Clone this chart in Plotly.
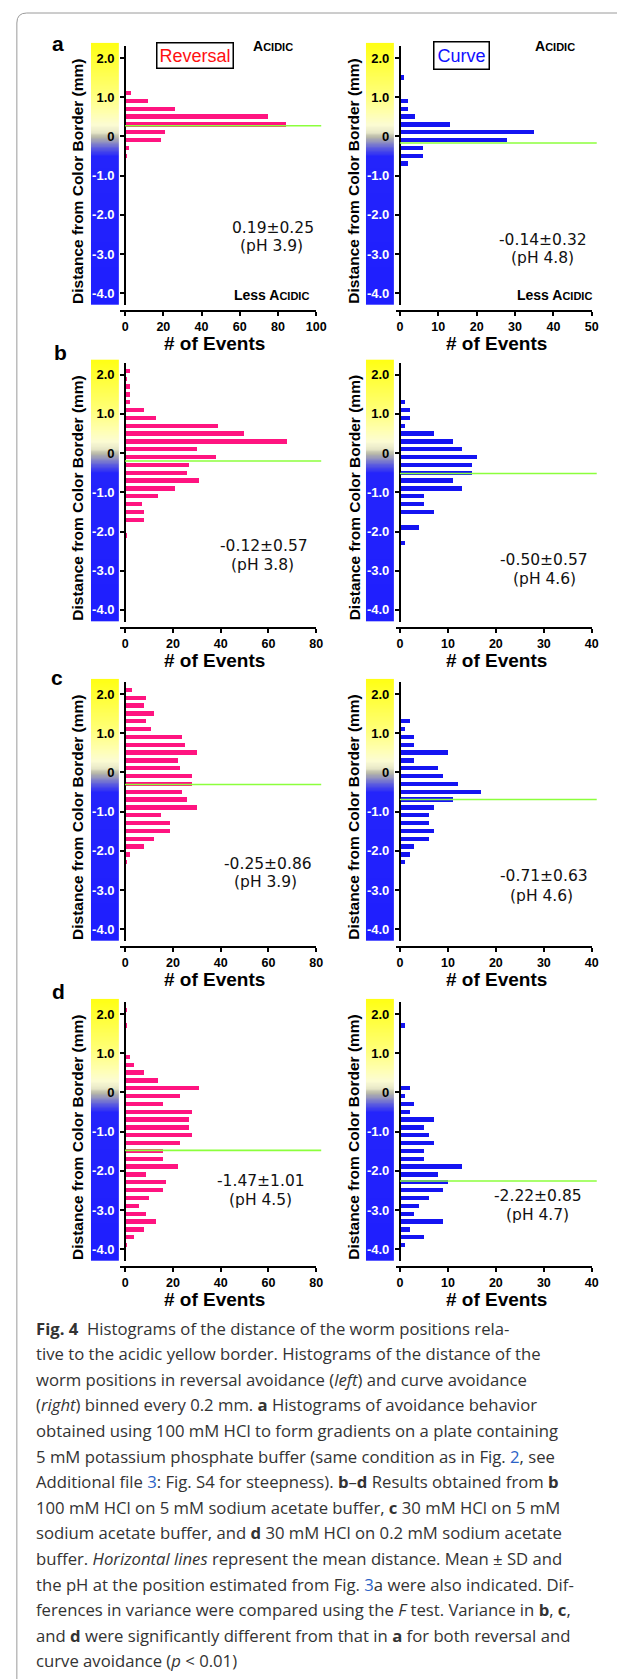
import numpy as np
import plotly.graph_objects as go

W, H = 625, 1679

# ---------------- data ----------------
bin_a_rev = [1.1, 0.9, 0.7, 0.5, 0.3, 0.1, -0.1, -0.3, -0.5]
cnt_a_rev = [3, 12, 26, 75, 84, 21, 19, 2, 1]
bin_a_cur = [1.5, 0.9, 0.7, 0.5, 0.3, 0.1, -0.1, -0.3, -0.5, -0.7]
cnt_a_cur = [1, 2, 2, 4, 13, 35, 28, 6, 6, 2]
bin_b_rev = [2.1, 1.9, 1.7, 1.5, 1.3, 1.1, 0.9, 0.7, 0.5, 0.3, 0.1, -0.1, -0.3, -0.5,
             -0.7, -0.9, -1.1, -1.3, -1.5, -1.7, -2.1]
cnt_b_rev = [2, 1, 2, 2, 2, 8, 13, 39, 50, 68, 30, 38, 27, 26, 31, 21, 14, 7, 8, 8, 1]
bin_b_cur = [1.3, 1.1, 0.9, 0.7, 0.5, 0.3, 0.1, -0.1, -0.3, -0.5, -0.7, -0.9, -1.1,
             -1.3, -1.5, -1.9, -2.3]
cnt_b_cur = [1, 2, 2, 1, 7, 11, 13, 16, 15, 15, 11, 13, 5, 5, 7, 4, 1]
bin_c_rev = [2.1, 1.9, 1.7, 1.5, 1.3, 1.1, 0.9, 0.7, 0.5, 0.3, 0.1, -0.1, -0.3, -0.5,
             -0.7, -0.9, -1.1, -1.3, -1.5, -1.7, -1.9, -2.1, -2.3]
cnt_c_rev = [3, 9, 8, 12, 9, 11, 24, 25, 30, 22, 23, 28, 28, 24, 26, 30, 15, 19, 19,
             12, 8, 2, 1]
bin_c_cur = [1.3, 1.1, 0.9, 0.7, 0.5, 0.3, 0.1, -0.1, -0.3, -0.5, -0.7, -0.9, -1.1,
             -1.3, -1.5, -1.7, -1.9, -2.1, -2.3]
cnt_c_cur = [2, 1, 3, 3, 10, 3, 8, 9, 12, 17, 11, 7, 6, 6, 7, 6, 3, 2, 1]
bin_d_rev = [2.1, 1.7, 0.9, 0.7, 0.5, 0.3, 0.1, -0.1, -0.3, -0.5, -0.7, -0.9, -1.1,
             -1.3, -1.5, -1.7, -1.9, -2.1, -2.3, -2.5, -2.7, -2.9, -3.1, -3.3, -3.5,
             -3.7, -3.9]
cnt_d_rev = [1, 1, 2, 4, 8, 14, 31, 23, 16, 28, 27, 27, 28, 23, 16, 16, 22, 9, 17, 16,
             10, 6, 9, 13, 8, 4, 1]
bin_d_cur = [1.7, 0.1, -0.1, -0.3, -0.5, -0.7, -0.9, -1.1, -1.3, -1.5, -1.7, -1.9,
             -2.1, -2.3, -2.5, -2.7, -2.9, -3.1, -3.3, -3.5, -3.7, -3.9]
cnt_d_cur = [1, 2, 1, 3, 2, 7, 5, 6, 7, 5, 5, 13, 8, 10, 9, 6, 4, 3, 9, 2, 5, 1]

panel_bins = [bin_a_rev, bin_a_cur, bin_b_rev, bin_b_cur,
              bin_c_rev, bin_c_cur, bin_d_rev, bin_d_cur]
panel_counts = [cnt_a_rev, cnt_a_cur, cnt_b_rev, cnt_b_cur,
                cnt_c_rev, cnt_c_cur, cnt_d_rev, cnt_d_cur]
mean_lines = [0.27, -0.17, -0.2, -0.52, -0.31, -0.69, -1.48, -2.26]
stat_text = ["0.19±0.25", "-0.14±0.32", "-0.12±0.57", "-0.50±0.57",
             "-0.25±0.86", "-0.71±0.63", "-1.47±1.01", "-2.22±0.85"]
ph_text = ["(pH 3.9)", "(pH 4.8)", "(pH 3.8)", "(pH 4.6)",
           "(pH 3.9)", "(pH 4.6)", "(pH 4.5)", "(pH 4.7)"]
x_max = [100, 50, 80, 40, 80, 40, 80, 40]
x_dtick = [20, 10, 20, 10, 20, 10, 20, 10]
panel_letters = ["a", "b", "c", "d"]
y_tickvals = [-4, -3, -2, -1, 0, 1, 2]
y_ticktext = ["-4.0", "-3.0", "-2.0", "-1.0", "0", "1.0", "2.0"]

caption_lines = [
    "<b>Fig. 4</b>  Histograms of the distance of the worm positions rela-",
    "tive to the acidic yellow border. Histograms of the distance of the",
    "worm positions in reversal avoidance (<i>left</i>) and curve avoidance",
    "(<i>right</i>) binned every 0.2 mm. <b>a</b> Histograms of avoidance behavior",
    "obtained using 100 mM HCl to form gradients on a plate containing",
    "5 mM potassium phosphate buffer (same condition as in Fig. <span style='color:#2b63c6'>2</span>, see",
    "Additional file <span style='color:#2b63c6'>3</span>: Fig. S4 for steepness). <b>b</b>–<b>d</b> Results obtained from <b>b</b>",
    "100 mM HCl on 5 mM sodium acetate buffer, <b>c</b> 30 mM HCl on 5 mM",
    "sodium acetate buffer, and <b>d</b> 30 mM HCl on 0.2 mM sodium acetate",
    "buffer. <i>Horizontal lines</i> represent the mean distance. Mean ± SD and",
    "the pH at the position estimated from Fig. <span style='color:#2b63c6'>3</span>a were also indicated. Dif-",
    "ferences in variance were compared using the <i>F</i> test. Variance in <b>b</b>, <b>c</b>,",
    "and <b>d</b> were significantly different from that in <b>a</b> for both reversal and",
    "curve avoidance (<i>p</i> &lt; 0.01)",
]

# ---------------- styling / geometry ----------------
PINK = "#FF1480"
BLUE = "#1414F2"
GREEN = "#8CFF3C"
AXFONT = "Liberation Sans, Arial, sans-serif"

row_y2 = [50, 366.7, 686, 1006]          # pixel y of the 2.0 tick per row
PXMM = 39.2
Y_LO, Y_HI = -4.3, 2.3
STRIP_TOP = 2.39
col_axis_x = [119, 398.3]
col_xend = [313.3, 593.3]
col_xstart = [114, 394.3]
col_strip = [(84.3, 112.7), (363.7, 392.3)]

stat_pos = [(269, 220), (543.3, 231.7), (260, 538.3), (544.3, 551.7),
            (264, 855.7), (545, 868.3), (257.3, 1173.3), (538.3, 1187.7)]
ph_pos = [(268, 238.3), (542.7, 250), (258.3, 557.3), (545, 570.7),
          (261.7, 874.3), (541.7, 887.7), (256.7, 1192.3), (538.3, 1206.7)]


def px(x):
    return x / W


def py(y):
    return 1 - y / H


strip_stops = [(-4.3, "#1e1eff"), (-0.5, "#2424fb"), (-0.3, "#5a5ae0"),
               (-0.15, "#8c8cc4"), (0.0, "#b8b8a8"), (0.12, "#e8e8c8"),
               (0.3, "#fcfcd4"), (0.6, "#ffffb0"), (1.2, "#ffff70"),
               (STRIP_TOP, "#ffff14")]
strip_cs = [[(v - Y_LO) / (STRIP_TOP - Y_LO), c] for v, c in strip_stops]

fig = go.Figure()
layout = dict(width=W, height=H, margin=dict(l=0, r=0, t=0, b=0),
              paper_bgcolor="white", plot_bgcolor="rgba(0,0,0,0)",
              showlegend=False, bargap=0)
annotations = []
shapes = []

strip_y = np.linspace(Y_LO, STRIP_TOP, 200)
strip_z = [[v, v] for v in strip_y]

for i in range(8):
    r, c = i // 2, i % 2
    top = row_y2[r] - (Y_HI - 2.0) * PXMM
    bot = row_y2[r] + (2.0 - Y_LO) * PXMM
    s = i + 1
    b = i + 9

    # gradient strip (own subplot, drawn first)
    fig.add_trace(go.Heatmap(x=[0, 1], y=strip_y, z=strip_z, colorscale=strip_cs,
                             zmin=Y_LO, zmax=STRIP_TOP, zsmooth="best",
                             showscale=False, hoverinfo="skip",
                             xaxis=f"x{s}", yaxis=f"y{s}"))
    sx0, sx1 = col_strip[c]
    layout[f"xaxis{s}"] = dict(domain=[px(sx0), px(sx1)], range=[-0.5, 1.5],
                               visible=False, anchor=f"y{s}")
    layout[f"yaxis{s}"] = dict(domain=[py(bot), py(top - (STRIP_TOP - Y_HI) * PXMM)],
                               range=[Y_LO, STRIP_TOP], visible=False, anchor=f"x{s}")

    # histogram bars
    xm = x_max[i]
    x0px, xendpx, axpx = col_xstart[c], col_xend[c], col_axis_x[c]
    upx = (xendpx - axpx) / xm
    xr0 = -(axpx - x0px) / upx
    fig.add_trace(go.Bar(orientation="h", x=panel_counts[i], y=panel_bins[i],
                         width=0.11, marker=dict(color=PINK if c == 0 else BLUE, line=dict(width=0)),
                         xaxis=f"x{b}", yaxis=f"y{b}", hoverinfo="skip"))
    layout[f"xaxis{b}"] = dict(
        domain=[px(x0px), px(xendpx)], range=[xr0, xm], anchor="free",
        position=py(bot + 6.5), tickvals=list(range(0, xm + 1, x_dtick[i])),
        ticks="outside", ticklen=4, tickwidth=2, tickcolor="black",
        showline=True, linewidth=2, linecolor="black", showgrid=False, zeroline=False,
        tickfont=dict(family=AXFONT, size=12.5, color="black", weight="bold"))
    layout[f"yaxis{b}"] = dict(
        domain=[py(bot), py(top)], range=[Y_LO, Y_HI], anchor="free",
        position=px(axpx), tickvals=y_tickvals,
        ticktext=[(f"<span style='color:white'>{t}</span>" if v < 0 else t)
                  for v, t in zip(y_tickvals, y_ticktext)],
        ticks="outside", ticklen=4, tickwidth=2, tickcolor="black",
        ticklabelstandoff=3,
        showline=True, linewidth=2, linecolor="black", showgrid=False, zeroline=False,
        tickfont=dict(family=AXFONT, size=13, color="black", weight="bold"))

    # mean line
    dom_w = xendpx - x0px
    shapes.append(dict(type="line", xref=f"x{b} domain", yref=f"y{b}",
                       x0=(0 - xr0) / (xm - xr0), x1=1 + 5 / dom_w,
                       y0=mean_lines[i], y1=mean_lines[i],
                       line=dict(color=GREEN, width=1.6)))

    # stats text
    annotations.append(dict(x=px(stat_pos[i][0]), y=py(stat_pos[i][1]), xref="paper", yref="paper",
                            text=stat_text[i], showarrow=False, xanchor="center", yanchor="middle",
                            font=dict(family="DejaVu Sans", size=15.5, color="#111")))
    annotations.append(dict(x=px(ph_pos[i][0]), y=py(ph_pos[i][1]), xref="paper", yref="paper",
                            text=ph_text[i], showarrow=False, xanchor="center", yanchor="middle",
                            font=dict(family="DejaVu Sans", size=15.5, color="#111")))

    # axis titles
    ytit_x = [70.5, 351.7][c]
    annotations.append(dict(x=px(ytit_x), y=py((top + bot) / 2 + 6), xref="paper", yref="paper",
                            text="<b>Distance from Color Border (mm)</b>", textangle=-90,
                            showarrow=False, xanchor="center", yanchor="middle",
                            font=dict(family=AXFONT, size=15.5, color="black")))
    xtit_x = [209.5, 496.7][c]
    annotations.append(dict(x=px(xtit_x), y=py(bot + 38.5), xref="paper", yref="paper",
                            text="<b># of Events</b>", showarrow=False,
                            xanchor="center", yanchor="middle",
                            font=dict(family=AXFONT, size=19, color="black")))

# panel letters
letter_pos = [(51, 35), (53, 345), (50, 670), (51.5, 983)]
for k, L in enumerate(panel_letters):
    annotations.append(dict(x=px(letter_pos[k][0]), y=py(letter_pos[k][1]), xref="paper", yref="paper",
                            text=f"<b>{L}</b>", showarrow=False, xanchor="center", yanchor="middle",
                            font=dict(family=AXFONT, size=21, color="black")))

# legend-like boxes and acidity labels (row a)
annotations.append(dict(x=px(190), y=py(47.5), xref="paper", yref="paper", text="Reversal",
                        showarrow=False, xanchor="center", yanchor="middle",
                        font=dict(family=AXFONT, size=18, color="#ff1010"),
                        bordercolor="black", borderwidth=1.5, borderpad=2, bgcolor="white"))
annotations.append(dict(x=px(460.5), y=py(47.5), xref="paper", yref="paper", text="Curve",
                        showarrow=False, xanchor="center", yanchor="middle",
                        font=dict(family=AXFONT, size=18, color="#1010ff"),
                        bordercolor="black", borderwidth=1.5, borderpad=3, bgcolor="white"))
acid = "<b>A<span style='font-size:11px'>CIDIC</span></b>"
less = "<b>Less A<span style='font-size:11px'>CIDIC</span></b>"
for (xa, ya, t) in [(269, 37.7, acid), (556, 37.7, acid), (268, 286.7, less), (555, 286.7, less)]:
    annotations.append(dict(x=px(xa), y=py(ya), xref="paper", yref="paper", text=t,
                            showarrow=False, xanchor="center", yanchor="middle",
                            font=dict(family=AXFONT, size=14, color="black")))

# caption
for k, line in enumerate(caption_lines):
    annotations.append(dict(x=px(26), y=py(1320 + k * 25.6), xref="paper", yref="paper",
                            text=line, showarrow=False, xanchor="left", yanchor="middle",
                            align="left",
                            font=dict(family="Open Sans", size=16.7, color="#333333")))

# frame (top and left border with rounded corner)
shapes.append(dict(type="path", xref="paper", yref="paper",
                   path=f"M {px(9)},0 L {px(9)},{py(15)} Q {px(9)},{py(5)} {px(19)},{py(5)} L 1,{py(5)}",
                   line=dict(color="#9a9a9a", width=1)))

layout["annotations"] = annotations
layout["shapes"] = shapes
fig.update_layout(**layout)
fig.write_html("out.html")
